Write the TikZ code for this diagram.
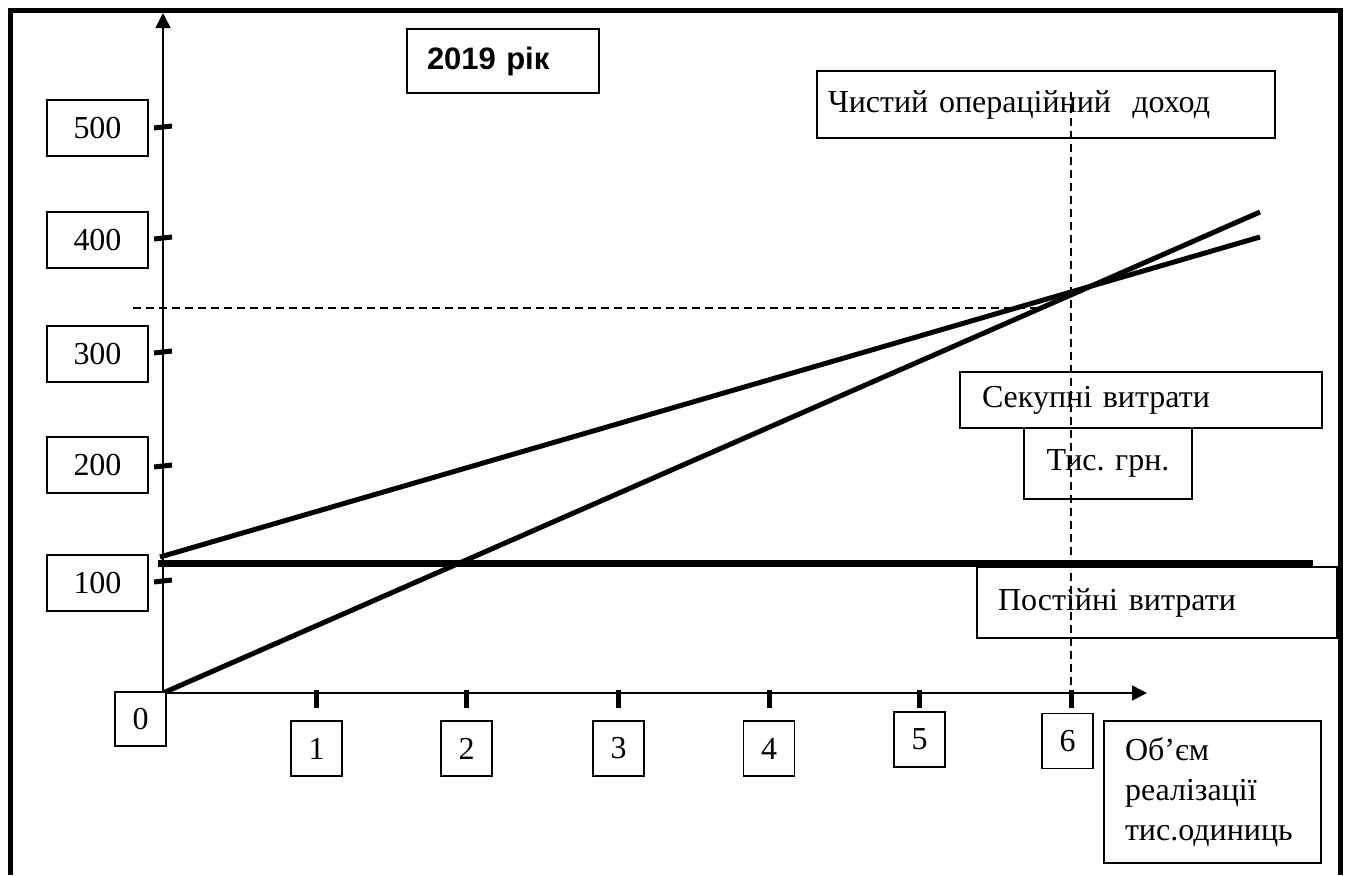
\documentclass[tikz,border=0pt]{standalone}
\usepackage{fontspec}
\setmainfont{Liberation Serif}
\newfontfamily\titlefont{Liberation Sans}
\usetikzlibrary{arrows.meta,positioning}

\tikzset{
    lbox/.style={draw, line width=0.6pt, fill=white, inner sep=0pt,
        font=\fontsize{16}{20}\selectfont},
    numbox/.style={lbox, minimum width=25.5pt, minimum height=27.5pt},
    ybox/.style={lbox, minimum width=50.5pt, minimum height=28pt},
    txtbox/.style={lbox, align=left, inner xsep=#1},
    axis/.style={line width=0.8pt, -{Triangle[length=7.5pt,width=7.5pt]}},
    axtick/.style={line width=2.5pt},
    graphline/.style={line width=2.5pt},
    guide/.style={line width=0.8pt, dash pattern=on 4pt off 2.5pt}
}

\begin{document}
\begin{tikzpicture}[x=0.5pt, y=-0.5pt]
        \useasboundingbox (0,0) rectangle (1346,875);

        % frame
        \draw[line width=2.5pt] (10,875) -- (10,10) -- (1340,10) -- (1340,875);

        % axes
        \coordinate (O) at (163,693);
        \coordinate (ytop) at (163,13);
        \coordinate (xend) at (1147,693);
        \draw[axis] (O) -- (ytop);
        \draw[axis] (O) -- (xend);

        \foreach \v/\y in {500/127, 400/238, 300/352, 200/466, 100/581}
            \draw[axtick] (154,\y+1) -- (172,\y-1);
        \foreach \x in {316, 466, 618, 769, 919, 1071}
            \draw[axtick] (\x,690) -- (\x,708);

        % lines
        \coordinate (tc0) at (160,557);
        \coordinate (tc1) at (1260,237);
        \coordinate (rv1) at (1260,212);
        \coordinate (fc0) at (158,563);
        \coordinate (fc1) at (1313,563);
        \draw[graphline] (O) -- (rv1);
        \draw[graphline] (tc0) -- (tc1);
        \draw[line width=3.5pt] (fc0) -- (fc1);

        % axis labels
        \foreach \v/\y in {500/128, 400/240, 300/354, 200/465, 100/583}
            \node[ybox] (y\v) at (97.5,\y) {\v};
        \node[numbox, minimum height=27pt] (x0) at (140.5,719) {0};
        \foreach \v/\x/\y in {1/316.5/748.5, 2/466.5/748.5, 3/618.5/748.5,
                              4/769/748.5, 5/919.5/739.5, 6/1067.5/741}
            \node[numbox] (x\v) at (\x,\y) {\v};

        \node[txtbox=10pt, text width=76pt, minimum height=32pt,
            font=\titlefont\bfseries\fontsize{15.5}{18}\selectfont] (title) at (503,61) {2019 рік};
        \node[txtbox=5.5pt, text width=218pt, minimum height=33.5pt] (noi) at (1046,104.5)
            {Чистий операційний \ доход};
        \node[txtbox=11pt, text width=159pt, minimum height=28pt] (tc) at (1141,400)
            {Секупні витрати};
        \node[lbox, minimum width=84pt, minimum height=35.5pt] (unit) at (1108,463.5)
            {Тис. грн.};
        \node[txtbox=10.5pt, text width=159pt, minimum height=35.5pt] (fc) at (1157,602.5)
            {Постійні витрати};
        \node[txtbox=10.5pt, text width=87.5pt, minimum height=71pt] (vol) at (1212.5,792)
            {Об’єм\\реалізації\\тис.одиниць};

        % guides
        \coordinate (h0) at (133,308);
        \coordinate (h1) at (1045,308);
        \coordinate (v0) at (1071,92);
        \coordinate (v1) at (1071,693);
        \draw[guide] (h0) -- (h1);
        \draw[guide] (v0) -- (v1);
    \end{tikzpicture}
\end{document}
